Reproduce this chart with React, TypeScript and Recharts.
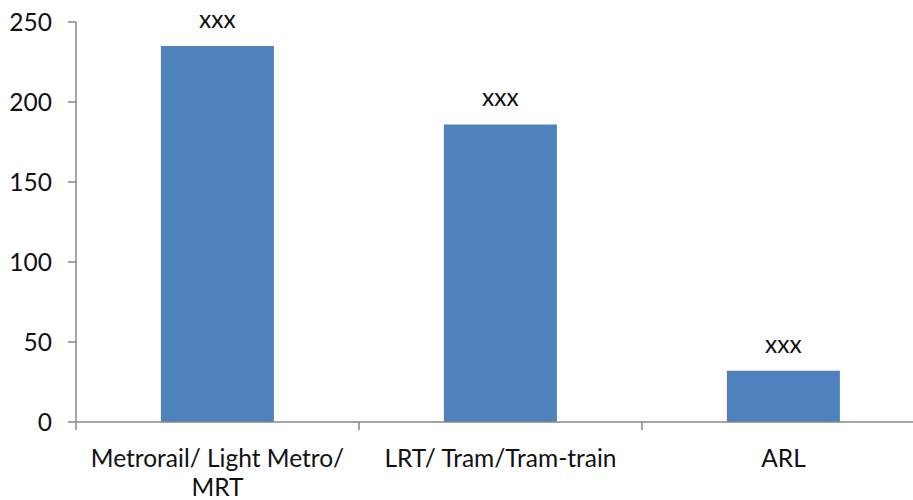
import { BarChart, Bar, XAxis, YAxis, LabelList } from "recharts"

const categories = ["Metrorail/ Light Metro/ MRT", "LRT/ Tram/Tram-train", "ARL"]
const values = [235, 186, 32]
const valueLabels = ["xxx", "xxx", "xxx"]
const yTicks = [0, 50, 100, 150, 200, 250]

const data = categories.map((name, i) => ({
  name,
  value: values[i],
  label: valueLabels[i],
}))

const FONT = "Lato, 'Open Sans', sans-serif"
const FONT_SIZE = 24.5
const AXIS = "#878787"
const BLUE = "#4F81BD"

// chart geometry
const CHART_W = 940
const CHART_H = 500
const MARGIN = { top: 22, right: 15, left: 16, bottom: 0 }
const Y_W = 60
const STEP = (CHART_W - MARGIN.left - MARGIN.right - Y_W) / categories.length
const WRAP_W = 265

let ctx: CanvasRenderingContext2D | null = null
function textWidth(s: string) {
  if (!ctx) ctx = document.createElement("canvas").getContext("2d")
  if (!ctx) return s.length * FONT_SIZE * 0.5
  ctx.font = `${FONT_SIZE}px ${FONT}`
  return ctx.measureText(s).width
}

// greedy word wrap
function wrap(s: string, max: number) {
  const lines: string[] = []
  let cur = ""
  for (const w of s.split(" ")) {
    const next = cur ? cur + " " + w : w
    if (cur && textWidth(next) > max) {
      lines.push(cur)
      cur = w
    } else cur = next
  }
  if (cur) lines.push(cur)
  return lines
}

function CategoryTick(props: any) {
  const { x, y, payload } = props
  const bx = x - STEP / 2
  const lines = wrap(String(payload.value), WRAP_W)
  return (
    <g>
      <line x1={bx} y1={y} x2={bx} y2={y + 8} stroke={AXIS} strokeWidth={1.5} />
      <text
        x={x}
        y={y + 45}
        textAnchor="middle"
        fill="#111"
        style={{ fontFamily: FONT, fontSize: FONT_SIZE }}
      >
        {lines.map((l, i) => (
          <tspan key={i} x={x} dy={i === 0 ? 0 : 29}>
            {l}
          </tspan>
        ))}
      </text>
    </g>
  )
}

export default function App() {
  return (
    <div style={{ width: 913, height: 500, overflow: "hidden", position: "fixed", left: 0, top: 0, background: "#fff" }}>
      <BarChart
        width={CHART_W}
        height={CHART_H}
        data={data}
        margin={MARGIN}
        barCategoryGap="30%"
      >
        <XAxis
          dataKey="name"
          height={78}
          axisLine={{ stroke: AXIS, strokeWidth: 1.5 }}
          tickLine={false}
          tickSize={0}
          tickMargin={0}
          interval={0}
          tick={<CategoryTick />}
        />
        <YAxis
          width={Y_W}
          domain={[0, 250]}
          ticks={yTicks}
          interval={0}
          axisLine={{ stroke: AXIS, strokeWidth: 1.5 }}
          tickLine={{ stroke: AXIS, strokeWidth: 1.5 }}
          tickSize={8}
          tickMargin={16}
          tick={{ fontFamily: FONT, fontSize: FONT_SIZE, fill: "#111" }}
        />
        <Bar dataKey="value" fill={BLUE} isAnimationActive={false}>
          <LabelList
            dataKey="label"
            position="top"
            offset={18}
            style={{ fontFamily: FONT, fontSize: FONT_SIZE, fill: "#111" }}
          />
        </Bar>
      </BarChart>
    </div>
  )
}
